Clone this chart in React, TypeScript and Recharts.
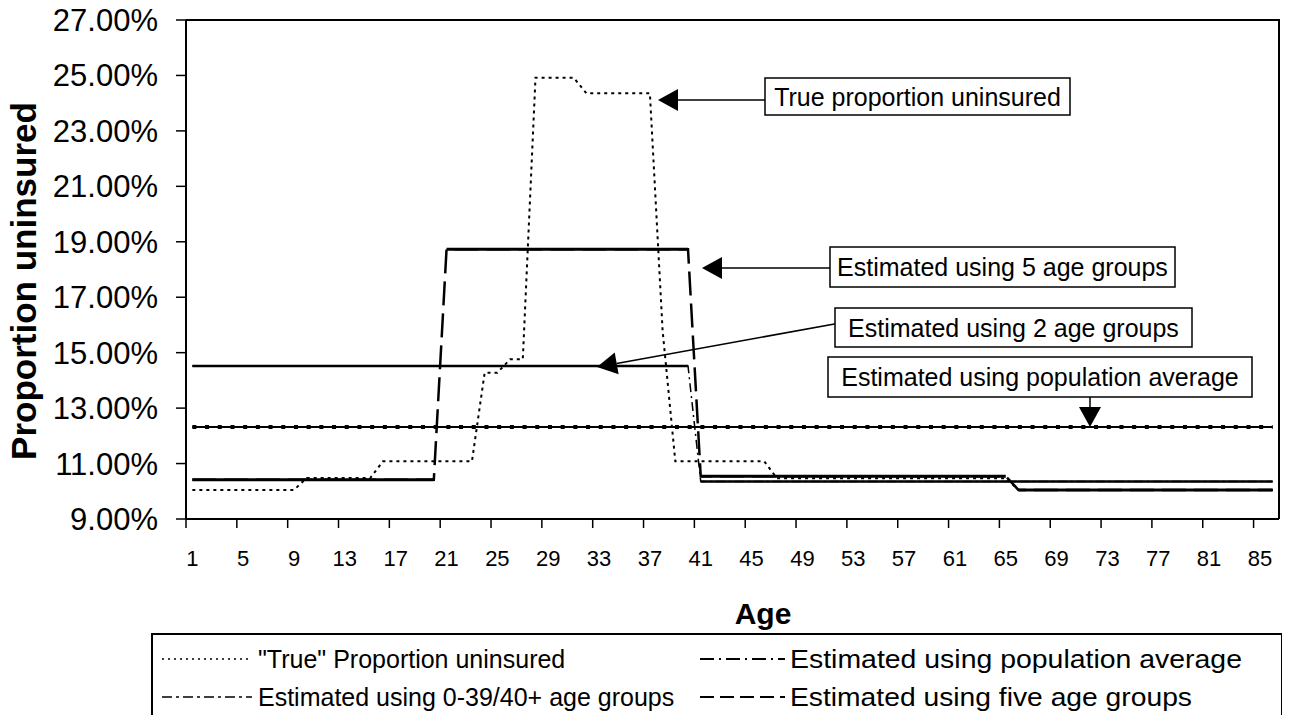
import React from 'react';
import { LineChart, Line, XAxis, YAxis } from 'recharts';

// ages shown on the category axis (1..86)
const ages = [
  1, 2, 3, 4, 5, 6, 7, 8, 9, 10,
  11, 12, 13, 14, 15, 16, 17, 18, 19, 20,
  21, 22, 23, 24, 25, 26, 27, 28, 29, 30,
  31, 32, 33, 34, 35, 36, 37, 38, 39, 40,
  41, 42, 43, 44, 45, 46, 47, 48, 49, 50,
  51, 52, 53, 54, 55, 56, 57, 58, 59, 60,
  61, 62, 63, 64, 65, 66, 67, 68, 69, 70,
  71, 72, 73, 74, 75, 76, 77, 78, 79, 80,
  81, 82, 83, 84, 85, 86,
];

// values in percent
const trueRate = [
  10.05, 10.05, 10.05, 10.05, 10.05, 10.05, 10.05, 10.05, 10.05, 10.48,
  10.48, 10.48, 10.48, 10.48, 10.48, 11.08, 11.08, 11.08, 11.08, 11.08,
  11.08, 11.08, 11.08, 14.28, 14.28, 14.76, 14.76, 24.92, 24.92, 24.92,
  24.92, 24.36, 24.36, 24.36, 24.36, 24.36, 24.36, 15.8, 11.08, 11.08,
  11.08, 11.08, 11.08, 11.08, 11.08, 11.08, 10.47, 10.47, 10.47, 10.47,
  10.47, 10.47, 10.47, 10.47, 10.47, 10.47, 10.47, 10.47, 10.47, 10.47,
  10.47, 10.47, 10.47, 10.47, 10.47, 10.05, 10.05, 10.05, 10.05, 10.05,
  10.05, 10.05, 10.05, 10.05, 10.05, 10.05, 10.05, 10.05, 10.05, 10.05,
  10.05, 10.05, 10.05, 10.05, 10.05, 10.05,
];

const popAverage = [
  12.32, 12.32, 12.32, 12.32, 12.32, 12.32, 12.32, 12.32, 12.32, 12.32,
  12.32, 12.32, 12.32, 12.32, 12.32, 12.32, 12.32, 12.32, 12.32, 12.32,
  12.32, 12.32, 12.32, 12.32, 12.32, 12.32, 12.32, 12.32, 12.32, 12.32,
  12.32, 12.32, 12.32, 12.32, 12.32, 12.32, 12.32, 12.32, 12.32, 12.32,
  12.32, 12.32, 12.32, 12.32, 12.32, 12.32, 12.32, 12.32, 12.32, 12.32,
  12.32, 12.32, 12.32, 12.32, 12.32, 12.32, 12.32, 12.32, 12.32, 12.32,
  12.32, 12.32, 12.32, 12.32, 12.32, 12.32, 12.32, 12.32, 12.32, 12.32,
  12.32, 12.32, 12.32, 12.32, 12.32, 12.32, 12.32, 12.32, 12.32, 12.32,
  12.32, 12.32, 12.32, 12.32, 12.32, 12.32,
];

// 0-39 / 40+
const twoGroups = [
  14.52, 14.52, 14.52, 14.52, 14.52, 14.52, 14.52, 14.52, 14.52, 14.52,
  14.52, 14.52, 14.52, 14.52, 14.52, 14.52, 14.52, 14.52, 14.52, 14.52,
  14.52, 14.52, 14.52, 14.52, 14.52, 14.52, 14.52, 14.52, 14.52, 14.52,
  14.52, 14.52, 14.52, 14.52, 14.52, 14.52, 14.52, 14.52, 14.52, 14.52,
  10.35, 10.35, 10.35, 10.35, 10.35, 10.35, 10.35, 10.35, 10.35, 10.35,
  10.35, 10.35, 10.35, 10.35, 10.35, 10.35, 10.35, 10.35, 10.35, 10.35,
  10.35, 10.35, 10.35, 10.35, 10.35, 10.35, 10.35, 10.35, 10.35, 10.35,
  10.35, 10.35, 10.35, 10.35, 10.35, 10.35, 10.35, 10.35, 10.35, 10.35,
  10.35, 10.35, 10.35, 10.35, 10.35, 10.35,
];

const fiveGroups = [
  10.42, 10.42, 10.42, 10.42, 10.42, 10.42, 10.42, 10.42, 10.42, 10.42,
  10.42, 10.42, 10.42, 10.42, 10.42, 10.42, 10.42, 10.42, 10.42, 10.42,
  18.73, 18.73, 18.73, 18.73, 18.73, 18.73, 18.73, 18.73, 18.73, 18.73,
  18.73, 18.73, 18.73, 18.73, 18.73, 18.73, 18.73, 18.73, 18.73, 18.73,
  10.54, 10.54, 10.54, 10.54, 10.54, 10.54, 10.54, 10.54, 10.54, 10.54,
  10.54, 10.54, 10.54, 10.54, 10.54, 10.54, 10.54, 10.54, 10.54, 10.54,
  10.54, 10.54, 10.54, 10.54, 10.54, 10.05, 10.05, 10.05, 10.05, 10.05,
  10.05, 10.05, 10.05, 10.05, 10.05, 10.05, 10.05, 10.05, 10.05, 10.05,
  10.05, 10.05, 10.05, 10.05, 10.05, 10.05,
];

const xTicks = [1, 5, 9, 13, 17, 21, 25, 29, 33, 37, 41, 45, 49, 53, 57, 61, 65, 69, 73, 77, 81, 85];
const yTicks = [9, 11, 13, 15, 17, 19, 21, 23, 25, 27];

const legendItems = [
  { label: '"True" Proportion uninsured', dash: '2 4', width: 1.5, fit: 0 },
  { label: 'Estimated using population average', dash: '14 5 2 5', width: 2, fit: 452 },
  { label: 'Estimated using 0-39/40+ age groups', dash: '10 4 3 4', width: 1.5, fit: 0 },
  { label: 'Estimated using five age groups', dash: '14 6', width: 2, fit: 402 },
];

const W = 1290;
const H = 723;
const PLOT_LEFT = 186;
const PLOT_TOP = 20;
const PLOT_RIGHT = 1279;
const PLOT_BOTTOM = 519;
const HALF_BAND = (PLOT_RIGHT - PLOT_LEFT) / ages.length / 2;
const FONT = '"Liberation Sans", Arial, sans-serif';

// Excel restarts the dash on every short segment, so the flat runs look solid.
// Split each step series into alternating runs so the flats can be drawn solid
// on top of a dashed copy that only shows on the jumps.
const runIds = (values: number[]) => {
  let run = 0;
  return values.map((v, i) => {
    if (i > 0 && v !== values[i - 1]) run++;
    return run;
  });
};
const fiveRuns = runIds(fiveGroups);
const twoRuns = runIds(twoGroups);

const data = ages.map((age, i) => ({
  age,
  trueRate: trueRate[i],
  popAverage: popAverage[i],
  twoGroups: twoGroups[i],
  fiveGroups: fiveGroups[i],
  twoA: twoRuns[i] % 2 === 0 ? twoGroups[i] : null,
  twoB: twoRuns[i] % 2 === 1 ? twoGroups[i] : null,
  fiveA: fiveRuns[i] % 2 === 0 ? fiveGroups[i] : null,
  fiveB: fiveRuns[i] % 2 === 1 ? fiveGroups[i] : null,
}));

const XTick = ({ x, payload }: any) => (
  <g>
    <line x1={x - HALF_BAND} x2={x - HALF_BAND} y1={PLOT_BOTTOM} y2={PLOT_BOTTOM + 9} stroke="#000" strokeWidth={1.5} />
    <text x={x} y={PLOT_BOTTOM + 47} textAnchor="middle" fontSize={22} fontFamily={FONT} fill="#000">
      {payload.value}
    </text>
  </g>
);

const YTick = ({ y, payload }: any) => (
  <text x={158} y={y + 11} textAnchor="end" fontSize={31} fontFamily={FONT} fill="#000">
    {payload.value.toFixed(2)}%
  </text>
);

function Arrow({ x1, y1, x2, y2 }: { x1: number; y1: number; x2: number; y2: number }) {
  // line from (x1,y1) to arrow tip at (x2,y2)
  const dx = x2 - x1;
  const dy = y2 - y1;
  const len = Math.sqrt(dx * dx + dy * dy);
  const ux = dx / len;
  const uy = dy / len;
  const bx = x2 - ux * 20;
  const by = y2 - uy * 20;
  return (
    <g>
      <line x1={x1} y1={y1} x2={bx} y2={by} stroke="#000" strokeWidth={1.5} />
      <polygon
        points={`${x2},${y2} ${bx - uy * 11},${by + ux * 11} ${bx + uy * 11},${by - ux * 11}`}
        fill="#000"
      />
    </g>
  );
}

function Note({ x, y, w, h, text }: { x: number; y: number; w: number; h: number; text: string }) {
  return (
    <g>
      <rect x={x} y={y} width={w} height={h} fill="#fff" stroke="#000" strokeWidth={1.5} />
      <text x={x + w / 2} y={y + h / 2 + 9} textAnchor="middle" fontSize={25} fontFamily={FONT} fill="#000">
        {text}
      </text>
    </g>
  );
}

export default function App() {
  return (
    <div style={{ position: 'relative', width: W, height: H, margin: -8, background: '#fff', overflow: 'hidden' }}>
      <LineChart
        width={W}
        height={H}
        data={data}
        margin={{ top: PLOT_TOP, right: W - PLOT_RIGHT, bottom: 0, left: 0 }}
      >
        <XAxis
          type="number"
          dataKey="age"
          domain={[0.5, ages.length + 0.5]}
          ticks={xTicks}
          interval={0}
          height={H - PLOT_BOTTOM}
          axisLine={{ stroke: '#000', strokeWidth: 2 }}
          tickLine={false}
          tick={<XTick />}
          allowDataOverflow
        />
        <YAxis
          type="number"
          domain={[9, 27]}
          ticks={yTicks}
          interval={0}
          width={PLOT_LEFT}
          axisLine={{ stroke: '#000', strokeWidth: 2 }}
          tickLine={{ stroke: '#000', strokeWidth: 1.5 }}
          tickSize={10}
          tick={<YTick />}
          allowDataOverflow
        />
        {/* population average: thin solid line with square dots on it */}
        <Line dataKey="popAverage" stroke="#000" strokeWidth={2} dot={false} isAnimationActive={false} />
        <Line dataKey="popAverage" stroke="#000" strokeWidth={4} strokeDasharray="4 8.7" dot={false} isAnimationActive={false} />

        {/* 0-39/40+ : dash-dot on the jump, solid flats */}
        <Line dataKey="twoGroups" stroke="#000" strokeWidth={1.5} strokeDasharray="9 4 2 4" dot={false} isAnimationActive={false} />
        <Line dataKey="twoA" stroke="#000" strokeWidth={2.5} dot={false} connectNulls={false} isAnimationActive={false} />
        <Line dataKey="twoB" stroke="#000" strokeWidth={2.5} dot={false} connectNulls={false} isAnimationActive={false} />

        {/* five age groups: long dashes on the jumps, solid flats */}
        <Line dataKey="fiveGroups" stroke="#000" strokeWidth={2.5} strokeDasharray="24 8" dot={false} isAnimationActive={false} />
        <Line dataKey="fiveA" stroke="#000" strokeWidth={3} dot={false} connectNulls={false} isAnimationActive={false} />
        <Line dataKey="fiveB" stroke="#000" strokeWidth={3} dot={false} connectNulls={false} isAnimationActive={false} />

        <Line dataKey="trueRate" stroke="#000" strokeWidth={2} strokeDasharray="3 4" dot={false} isAnimationActive={false} />
      </LineChart>

      <svg width={W} height={H} style={{ position: 'absolute', left: 0, top: 0, pointerEvents: 'none' }}>
        {/* plot frame */}
        <polyline
          points={`${PLOT_LEFT},${PLOT_TOP} ${PLOT_RIGHT},${PLOT_TOP} ${PLOT_RIGHT},${PLOT_BOTTOM}`}
          fill="none"
          stroke="#000"
          strokeWidth={2}
        />

        {/* axis titles */}
        <text x={763} y={624} textAnchor="middle" fontSize={30} fontWeight="bold" fontFamily={FONT}>Age</text>
        <text
          transform="translate(36,281) rotate(-90)"
          textAnchor="middle"
          fontSize={35}
          fontWeight="bold"
          fontFamily={FONT}
        >
          Proportion uninsured
        </text>

        {/* annotations */}
        <Arrow x1={765} y1={100} x2={658} y2={100} />
        <Note x={765} y={78} w={305} h={37} text="True proportion uninsured" />
        <Arrow x1={830} y1={268} x2={702} y2={268} />
        <Note x={830} y={247} w={345} h={40} text="Estimated using 5 age groups" />
        <Arrow x1={840} y1={323} x2={597} y2={367} />
        <Note x={835} y={308} w={357} h={39} text="Estimated using 2 age groups" />
        <Arrow x1={1090} y1={397} x2={1090} y2={427} />
        <Note x={828} y={357} w={424} h={40} text="Estimated using population average" />

        {/* legend */}
        <rect x={152} y={634} width={1130} height={100} fill="#fff" stroke="#000" strokeWidth={2} />
        {legendItems.map((item, i) => {
          const col = i % 2;
          const row = Math.floor(i / 2);
          const sx = col === 0 ? 162 : 700;
          const sw = col === 0 ? 90 : 85;
          const tx = col === 0 ? 258 : 790;
          const cy = 659 + row * 38;
          return (
            <g key={item.label}>
              <line x1={sx} x2={sx + sw} y1={cy} y2={cy} stroke="#000" strokeWidth={item.width} strokeDasharray={item.dash} />
              <text
                x={tx}
                y={cy + 9}
                fontSize={25}
                fontFamily={FONT}
                textLength={item.fit || undefined}
                lengthAdjust={item.fit ? 'spacingAndGlyphs' : undefined}
              >
                {item.label}
              </text>
            </g>
          );
        })}
      </svg>
    </div>
  );
}
